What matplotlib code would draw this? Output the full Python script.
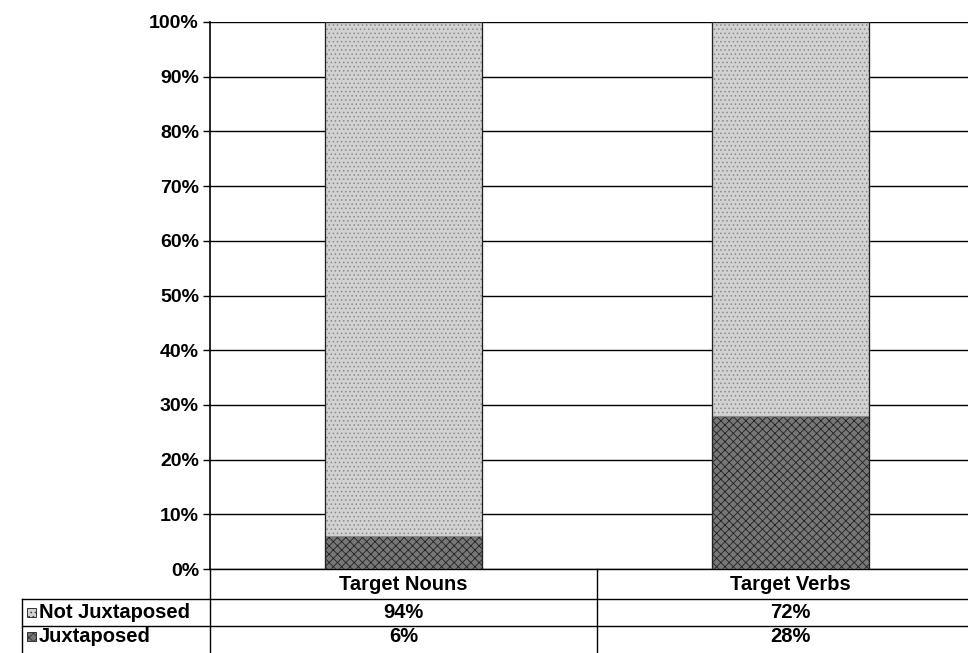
import numpy as np
import matplotlib
matplotlib.use("Agg")
import matplotlib.pyplot as plt
import matplotlib.ticker as tck

plt.rcParams.update({"font.family": "Liberation Sans", "font.weight": "bold", "hatch.linewidth": 0.6})

categories = ["Target Nouns", "Target Verbs"]
juxtaposed = [6, 28]
not_juxtaposed = [94, 72]
series_names = ["Not Juxtaposed", "Juxtaposed"]

fig = plt.figure(figsize=(9.68, 6.53), dpi=100)
ax = fig.add_axes([210/968, 84/653, 774/968, 547/653])

x = np.arange(len(categories))
ax.bar(x, juxtaposed, width=0.405, color="#777777", edgecolor="#222222", hatch="xxxx", linewidth=0.8, zorder=3)
ax.bar(x, not_juxtaposed, bottom=juxtaposed, width=0.405, color="#d2d2d2", edgecolor="#8a8a8a", hatch="....", linewidth=0.8, zorder=3)
# redraw the bar outlines in black
ax.bar(x, np.add(juxtaposed, not_juxtaposed), width=0.405, fill=False, edgecolor="#222222", linewidth=0.9, zorder=4)

ax.set_xlim(-0.5, 1.5)
ax.set_ylim(0, 100)
ax.yaxis.set_major_locator(tck.MultipleLocator(10))
ax.yaxis.set_major_formatter(tck.FuncFormatter(lambda v, p: "{:d}%".format(int(v))))
ax.grid(axis="y", color="black", linewidth=1.0, zorder=0)
ax.set_xticks([])
ax.tick_params(axis="y", labelsize=14, length=5, width=1, pad=3)
for lab in ax.get_yticklabels():
    lab.set_fontweight("bold")
for s in ["top", "right", "bottom"]:
    ax.spines[s].set_visible(False)
ax.spines["left"].set_linewidth(1.2)

# data table below the plot
h = 547.0
y_head = -30 / h
y_r1 = -57 / h
y_r2 = -84 / h
x_lab = (22 - 210) / 774.0
tr = ax.transAxes
kw = dict(transform=tr, color="black", linewidth=1.0, clip_on=False)
ax.plot([0, 1], [0, 0], **kw)
ax.plot([x_lab, 1], [y_head, y_head], **kw)
ax.plot([x_lab, 1], [y_r1, y_r1], **kw)
ax.plot([x_lab, x_lab], [y_head, y_r2], **kw)
ax.plot([0, 0], [0, y_r2], **kw)
ax.plot([0.5, 0.5], [0, y_r2], **kw)

fs = 14.5
for i, c in enumerate(categories):
    xc = (i + 0.5) / 2.0
    ax.text(xc, y_head / 2, c, transform=tr, ha="center", va="center", fontsize=fs, fontweight="bold")
    ax.text(xc, (y_head + y_r1) / 2, "{}%".format(not_juxtaposed[i]), transform=tr, ha="center", va="center", fontsize=fs, fontweight="bold")
    ax.text(xc, (y_r1 + y_r2) / 2 + 0.006, "{}%".format(juxtaposed[i]), transform=tr, ha="center", va="center", fontsize=fs, fontweight="bold")

# row labels with small legend keys
styles = [("#d2d2d2", "...."), ("#777777", "xxxx")]
for (yc, name, st) in [((y_head + y_r1) / 2, series_names[0], styles[0]), ((y_r1 + y_r2) / 2 + 0.006, series_names[1], styles[1])]:
    kx = x_lab + 5 / 774.0
    ax.add_patch(plt.Rectangle((kx, yc - 4.5 / h), 9 / 774.0, 9 / h, transform=tr, clip_on=False,
                               facecolor=st[0], edgecolor="#333333", hatch=st[1], linewidth=0.7))
    ax.text(kx + 12 / 774.0, yc, name, transform=tr, ha="left", va="center", fontsize=fs, fontweight="bold")

fig.savefig("out.png", dpi=100)
